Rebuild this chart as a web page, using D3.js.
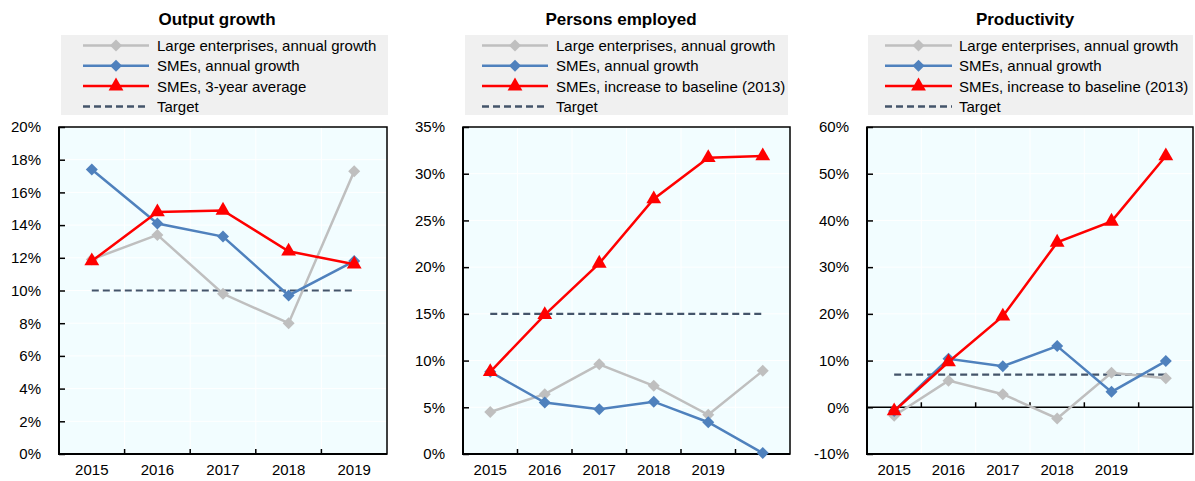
<!DOCTYPE html>
<html><head><meta charset="utf-8">
<script src="https://cdn.jsdelivr.net/npm/d3@7"></script>
<style>
body{margin:0;background:#fff}
svg{display:block}
text{font-family:"Liberation Sans",Arial,sans-serif;fill:#000}
</style>
</head><body>
<svg id="c" width="1195" height="481"></svg>
<script>
// ---- data ----
const years5 = ["2015","2016","2017","2018","2019"];
const years6 = ["2015","2016","2017","2018","2019",""];

const outLarge  = [11.9, 13.4, 9.8, 8.0, 17.3];
const outSME    = [17.4, 14.1, 13.3, 9.7, 11.8];
const outAvg    = [11.8, 14.8, 14.9, 12.4, 11.6];
const outTarget = 10;

const empLarge  = [4.5, 6.4, 9.6, 7.3, 4.2, 8.9];
const empSME    = [8.8, 5.5, 4.8, 5.6, 3.4, 0.1];
const empBase   = [8.8, 14.9, 20.4, 27.3, 31.7, 31.9];
const empTarget = 15;

const prodLarge  = [-1.8, 5.7, 2.8, -2.4, 7.4, 6.2];
const prodSME    = [-0.8, 10.4, 8.8, 13.1, 3.3, 9.9];
const prodBase   = [-0.8, 9.7, 19.5, 35.3, 39.8, 53.8];
const prodTarget = 7;

const outTicks  = [0,2,4,6,8,10,12,14,16,18,20];
const empTicks  = [0,5,10,15,20,25,30,35];
const prodTicks = [-10,0,10,20,30,40,50,60];

const legLarge = "Large enterprises, annual growth";
const legSME   = "SMEs, annual growth";
const legAvg   = "SMEs, 3-year average";
const legBase  = "SMEs, increase to baseline (2013)";
const legTarget = "Target";

// ---- styles ----
const C = {large:"#BFBFBF", sme:"#4F81BD", red:"#FF0000", target:"#44546A"};
const TOP = 127, BOTTOM = 454;

const panels = [
  {title:"Output growth", cats:years5, large:outLarge, sme:outSME, red:outAvg, target:outTarget,
   redLabel:legAvg, ticks:outTicks, x0:59, x1:387, leg:[61,388,83,149,157], titleX:217},
  {title:"Persons employed", cats:years6, large:empLarge, sme:empSME, red:empBase, target:empTarget,
   redLabel:legBase, ticks:empTicks, x0:463, x1:790, leg:[465,788,482,548,556], titleX:621},
  {title:"Productivity", cats:years6, large:prodLarge, sme:prodSME, red:prodBase, target:prodTarget,
   redLabel:legBase, ticks:prodTicks, x0:867, x1:1193, leg:[868,1193,885,952,959], titleX:1025}
];

const svg = d3.select("#c");
const diamond = d3.symbol().type(d3.symbolSquare).size(72)();
const tri = d3.symbol().type(d3.symbolTriangle).size(95)();

panels.forEach(p => {
  const g = svg.append("g");
  const x = d3.scaleBand().domain(p.cats).range([p.x0, p.x1]);
  const y = d3.scaleLinear().domain([p.ticks[0], p.ticks[p.ticks.length-1]]).range([BOTTOM, TOP]);
  const cx = (d,i) => x(p.cats[i]) + x.bandwidth()/2;

  // title
  g.append("text").attr("x", p.titleX).attr("y", 25).attr("text-anchor","middle")
    .style("font-size","17px").style("font-weight","bold").text(p.title);

  // legend
  const [lx0, lx1, sx0, sx1, tx] = p.leg;
  g.append("rect").attr("x", lx0).attr("y", 35).attr("width", lx1-lx0).attr("height", 80).attr("fill","#F0F0F0");
  const items = [
    {label:legLarge, color:C.large, m:"d"},
    {label:legSME, color:C.sme, m:"d"},
    {label:p.redLabel, color:C.red, m:"t"},
    {label:legTarget, color:C.target, m:"dash"}
  ];
  items.forEach((it, i) => {
    const cy = 45.5 + i*20.3;
    g.append("line").attr("x1", sx0).attr("x2", sx1).attr("y1", cy).attr("y2", cy)
      .attr("stroke", it.color).attr("stroke-width", 2.5)
      .attr("stroke-dasharray", it.m === "dash" ? "7,4" : null);
    if (it.m === "d") g.append("path").attr("d", diamond).attr("fill", it.color)
      .attr("transform", `translate(${(sx0+sx1)/2},${cy}) rotate(45)`);
    if (it.m === "t") g.append("path").attr("d", tri).attr("fill", it.color)
      .attr("transform", `translate(${(sx0+sx1)/2},${cy})`);
    g.append("text").attr("x", tx).attr("y", cy + 5.4).style("font-size","15px").text(it.label);
  });

  // plot background
  g.append("rect").attr("x", p.x0).attr("y", TOP).attr("width", p.x1-p.x0).attr("height", BOTTOM-TOP)
    .attr("fill","#F2FDFF");
  // gridlines
  g.selectAll(".hg").data(p.ticks).join("line")
    .attr("x1", p.x0).attr("x2", p.x1).attr("y1", d => y(d)).attr("y2", d => y(d))
    .attr("stroke","#fff").attr("stroke-width",1);
  g.selectAll(".vg").data(p.cats.slice(1)).join("line")
    .attr("x1", d => x(d)).attr("x2", d => x(d)).attr("y1", TOP).attr("y2", BOTTOM)
    .attr("stroke","#fff").attr("stroke-width",1);

  // zero line + x ticks
  const base = p.ticks[0] < 0 ? y(0) : BOTTOM;
  if (p.ticks[0] < 0) g.append("line").attr("x1", p.x0).attr("x2", p.x1).attr("y1", base).attr("y2", base)
    .attr("stroke","#000").attr("stroke-width",1.5);
  g.selectAll(".xt").data(p.cats.slice(1)).join("line")
    .attr("x1", d => x(d)).attr("x2", d => x(d)).attr("y1", base).attr("y2", base-5)
    .attr("stroke","#000").attr("stroke-width",1.5);

  // frame
  g.append("rect").attr("x", p.x0).attr("y", TOP).attr("width", p.x1-p.x0).attr("height", BOTTOM-TOP)
    .attr("fill","none").attr("stroke","#000").attr("stroke-width",1.5);
  g.append("line").attr("x1", p.x0).attr("x2", p.x0).attr("y1", TOP).attr("y2", BOTTOM+1)
    .attr("stroke","#000").attr("stroke-width",2);
  g.append("line").attr("x1", p.x0-1).attr("x2", p.x1).attr("y1", BOTTOM).attr("y2", BOTTOM)
    .attr("stroke","#000").attr("stroke-width",2);

  // y axis
  const ya = g.append("g").attr("transform", `translate(${p.x0},0)`)
    .call(d3.axisLeft(y).tickValues(p.ticks).tickFormat(d => d + "%").tickSize(-6).tickPadding(18));
  ya.select(".domain").remove();
  ya.selectAll(".tick line").attr("stroke","#000").attr("stroke-width",1.5);
  ya.selectAll("text").style("font-size","15px").attr("fill","#000")
    .style("font-family","'Liberation Sans',Arial,sans-serif");

  // x axis labels
  const xa = g.append("g").attr("transform", `translate(0,${BOTTOM})`)
    .call(d3.axisBottom(x).tickSize(0).tickPadding(10));
  xa.select(".domain").remove();
  xa.selectAll("text").style("font-size","15px").attr("fill","#000")
    .style("font-family","'Liberation Sans',Arial,sans-serif");

  // target
  g.append("line").attr("x1", cx(null,0)).attr("x2", cx(null,p.cats.length-1))
    .attr("y1", y(p.target)).attr("y2", y(p.target))
    .attr("stroke", C.target).attr("stroke-width", 2.2).attr("stroke-dasharray","7,4");

  // series
  const line = d3.line().x((d,i) => cx(d,i)).y(d => y(d));
  [[p.large, C.large, "d"], [p.sme, C.sme, "d"], [p.red, C.red, "t"]].forEach(([vals, col, m]) => {
    g.append("path").datum(vals).attr("d", line).attr("fill","none").attr("stroke", col).attr("stroke-width", 2.5);
    g.selectAll(null).data(vals).join("path")
      .attr("d", m === "d" ? diamond : tri).attr("fill", col)
      .attr("transform", (d,i) => `translate(${cx(d,i)},${y(d)})` + (m === "d" ? " rotate(45)" : ""));
  });
});
</script>
</body></html>
